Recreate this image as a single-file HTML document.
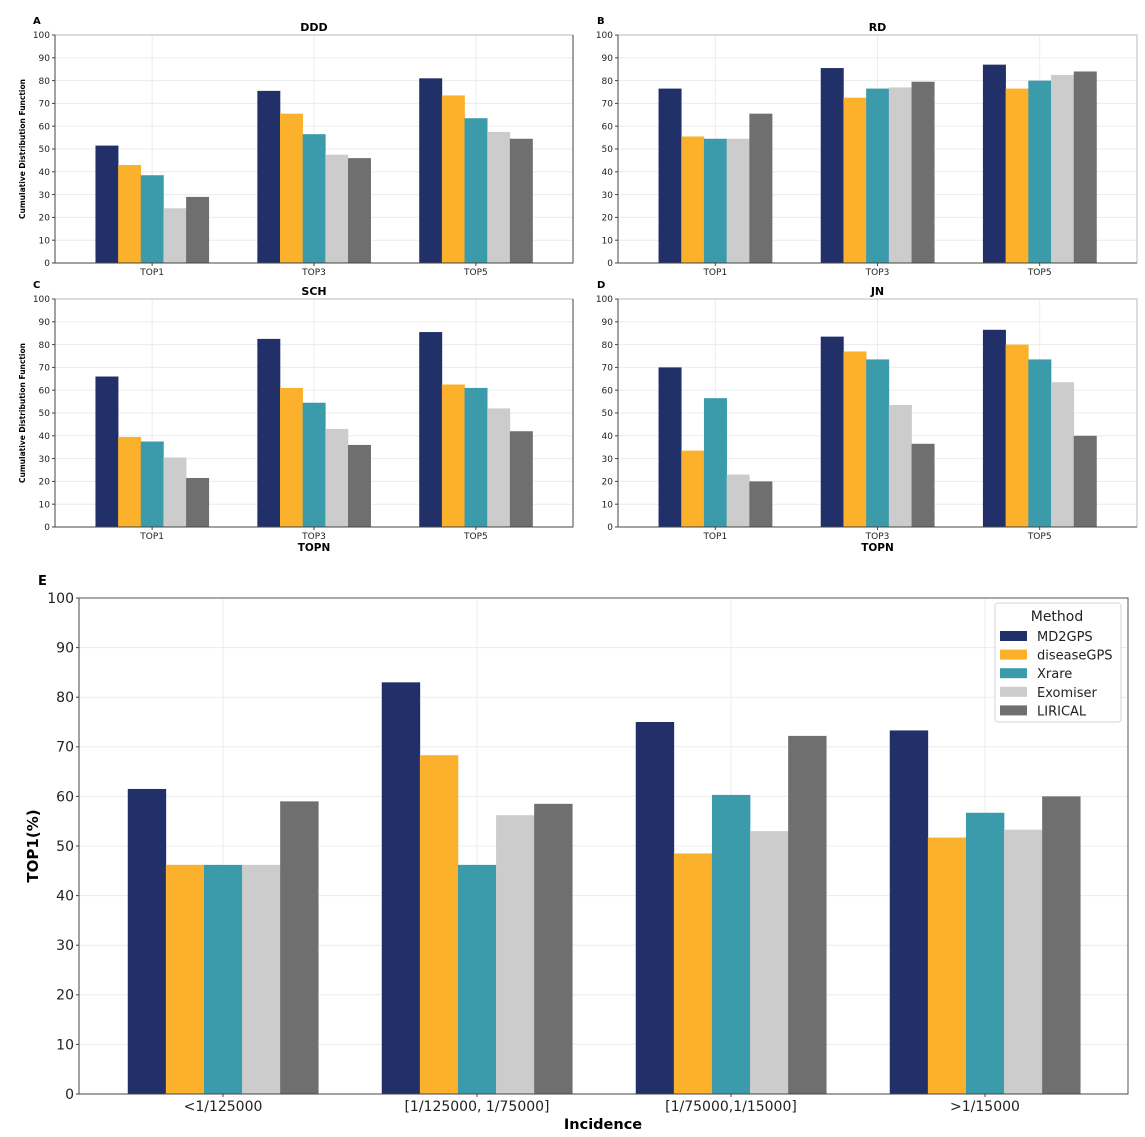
<!DOCTYPE html>
<html><head><meta charset="utf-8"><style>
body{margin:0;background:#fff;}
svg{display:block;font-family:"DejaVu Sans","Liberation Sans",sans-serif;}
</style></head><body>
<svg id="fig" width="1145" height="1137" viewBox="0 0 1145 1137" xmlns="http://www.w3.org/2000/svg"></svg>
<script>
const methods = ["MD2GPS","diseaseGPS","Xrare","Exomiser","LIRICAL"];
const colors = ["#22306a","#fbb12b","#3b9bab","#cccccc","#6f6f6f"];
const topCats = ["TOP1","TOP3","TOP5"];
const ddd = [[51.5,43,38.5,24,29],[75.5,65.5,56.5,47.5,46],[81,73.5,63.5,57.5,54.5]];
const rd = [[76.5,55.5,54.5,54.5,65.5],[85.5,72.5,76.5,77,79.5],[87,76.5,80,82.5,84]];
const sch = [[66,39.5,37.5,30.5,21.5],[82.5,61,54.5,43,36],[85.5,62.5,61,52,42]];
const jn = [[70,33.5,56.5,23,20],[83.5,77,73.5,53.5,36.5],[86.5,80,73.5,63.5,40]];
const incCats = ["<1/125000","[1/125000, 1/75000]","[1/75000,1/15000]",">1/15000"];
const incVals = [[61.5,46.2,46.2,46.2,59],[83,68.3,46.2,56.2,58.5],[75,48.5,60.3,53,72.2],[73.3,51.7,56.7,53.3,60]];
const yTicks = [0,10,20,30,40,50,60,70,80,90,100];

const NS="http://www.w3.org/2000/svg";
const svg=document.getElementById('fig');
function el(tag,attrs,parent,text){const e=document.createElementNS(NS,tag);for(const k in attrs)e.setAttribute(k,attrs[k]);if(text!==undefined)e.textContent=text;(parent||svg).appendChild(e);return e;}

function panel(o){
  const g=el('g',{});
  
  
  const {x0,x1,y0,y1,cats,vals,lo,hi,groupW,fs}=o;
  const xs=c=>x0+(c-lo)/(hi-lo)*(x1-x0);
  const ys=v=>y1-(v/100)*(y1-y0);
  // grid
  yTicks.forEach(t=>{const l=el('line',{x1:x0,x2:x1,y1:ys(t),y2:ys(t),stroke:'#ececec','stroke-width':1},g);
    
    });
  cats.forEach((c,i)=>{const l=el('line',{x1:xs(i),x2:xs(i),y1:y0,y2:y1,stroke:'#ececec','stroke-width':1},g);
    
    });
  // bars
  const bw=groupW/5;
  vals.forEach((row,i)=>{row.forEach((v,j)=>{
    const bx=xs(i)-groupW/2*(x1-x0)/(hi-lo)+j*bw*(x1-x0)/(hi-lo);
    const r=el('rect',{x:bx,y:ys(v),width:bw*(x1-x0)/(hi-lo)+0.3,height:ys(0)-ys(v),fill:colors[j]},g);
    
    
  });});
  // spines
  const sp=el('rect',{x:x0,y:y0,width:x1-x0,height:y1-y0,fill:'none',stroke:o.spine||'#bbb','stroke-width':1},g);
  
  
  el('line',{x1:x0,x2:x0,y1:y0,y2:y1,stroke:'#444','stroke-width':1},g);
  el('line',{x1:x0,x2:x1,y1:y1,y2:y1,stroke:'#444','stroke-width':1},g);
  if(o.rightDark) el('line',{x1:x1,x2:x1,y1:y0,y2:y1,stroke:'#444','stroke-width':1},g);
  // ticks
  yTicks.forEach(t=>{el('line',{x1:x0-3,x2:x0,y1:ys(t),y2:ys(t),stroke:'#444'},g);
    const tx=el('text',{x:x0-5,y:ys(t)+fs*0.35,'font-size':fs,'text-anchor':'end',fill:'#222'},g,t);
    
    });
  cats.forEach((c,i)=>{el('line',{x1:xs(i),x2:xs(i),y1:y1,y2:y1+3,stroke:'#444'},g);
    const tx=el('text',{x:xs(i),y:y1+fs+3,'font-size':fs,'text-anchor':'middle',fill:'#222'},g,c);
    
    });
  return g;
}

const small=[
 {name:'panel-a-ddd',x0:55,x1:573,y0:35,y1:263,vals:ddd,title:'DDD',letter:'A',lx:33,ylab:true,xlab:false,rightDark:true},
 {name:'panel-b-rd',x0:618,x1:1137,y0:35,y1:263,vals:rd,title:'RD',letter:'B',lx:597,ylab:false,xlab:false},
 {name:'panel-c-sch',x0:55,x1:573,y0:299,y1:527,vals:sch,title:'SCH',letter:'C',lx:33,ylab:true,xlab:true,rightDark:true},
 {name:'panel-d-jn',x0:618,x1:1137,y0:299,y1:527,vals:jn,title:'JN',letter:'D',lx:597,ylab:false,xlab:true}
];
small.forEach(p=>{
  panel({name:p.name,x0:p.x0,x1:p.x1,y0:p.y0,y1:p.y1,cats:topCats,vals:p.vals,lo:-0.6,hi:2.6,groupW:0.7,fs:9,rightDark:p.rightDark});
  const cx=(p.x0+p.x1)/2;
  const t=el('text',{x:cx,y:p.y0-4,'font-size':11,'font-weight':'bold','text-anchor':'middle'},svg,p.title);
  
  
  const l=el('text',{x:p.lx,y:p.y0-11,'font-size':10,'font-weight':'bold'},svg,p.letter);
  
  
  if(p.ylab){const y=(p.y0+p.y1)/2;const yl=el('text',{x:25,y:y,'font-size':7.5,'font-weight':'bold','text-anchor':'middle',transform:`rotate(-90 25 ${y})`},svg,'Cumulative Distribution Function');
    
    }
  if(p.xlab){const xl=el('text',{x:cx,y:p.y1+24,'font-size':10.5,'font-weight':'bold','text-anchor':'middle'},svg,'TOPN');
    
    }
});

panel({name:'panel-e-incidence',x0:79,x1:1128,y0:598,y1:1094,cats:incCats,vals:incVals,lo:-0.567,hi:3.563,groupW:0.75,fs:14,spine:'#555'});
const le=el('text',{x:38,y:585,'font-size':13,'font-weight':'bold'},svg,'E');


const ey=el('text',{x:38,y:846,'font-size':15,'font-weight':'bold','text-anchor':'middle',transform:'rotate(-90 38 846)'},svg,'TOP1(%)');


const ex=el('text',{x:603,y:1129,'font-size':14.5,'font-weight':'bold','text-anchor':'middle'},svg,'Incidence');



// legend
const lg=el('g',{});


el('rect',{x:995,y:603,width:126,height:119,rx:3,fill:'#fff',stroke:'#d5d5d5'},lg);
el('text',{x:1057,y:621,'font-size':14,'text-anchor':'middle',fill:'#222'},lg,'Method');
methods.forEach((m,j)=>{
  const y=636+j*18.6;
  const e=el('g',{},lg);
  
  
  el('rect',{x:1000,y:y-5,width:27,height:10,fill:colors[j]},e);
  el('text',{x:1037,y:y+5,'font-size':13,fill:'#222'},e,m);
});
</script>
</body></html>
